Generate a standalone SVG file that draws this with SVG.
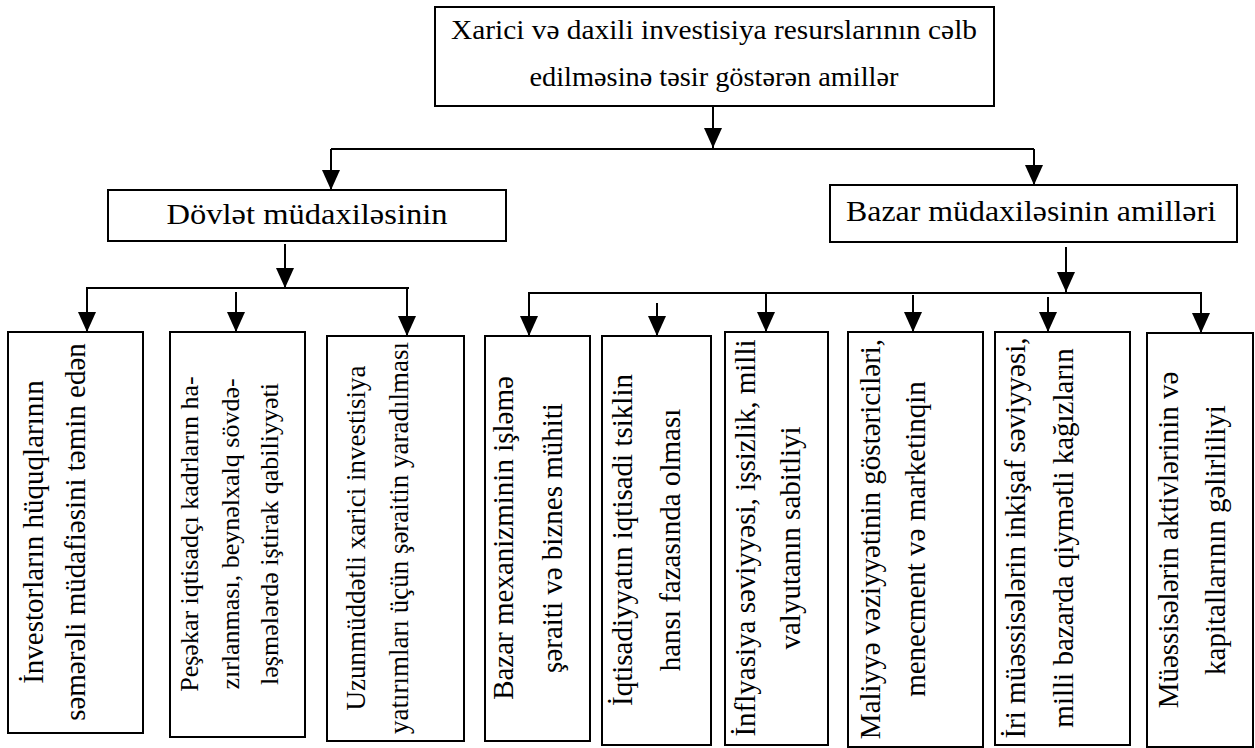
<svg xmlns="http://www.w3.org/2000/svg" width="1255" height="748" viewBox="0 0 1255 748">
<style>
.box{fill:#fff;stroke:#000;stroke-width:2}
.t{font-family:"Liberation Serif","DejaVu Serif","Times New Roman",serif;fill:#000;text-anchor:middle}
.top{font-size:28px}
.mid{font-size:30px}
.v{font-size:29px}
.v2{font-size:26px}
.v3{font-size:27px}
.c{fill:none;stroke:#000;stroke-width:2}
</style>
<defs>
<marker id="ah" viewBox="0 0 20 18" refX="20" refY="9" markerWidth="20" markerHeight="18" markerUnits="userSpaceOnUse" orient="auto">
<path d="M0,0 L20,9 L0,18 z" fill="#000"/>
</marker>
</defs>
<rect width="1255" height="748" fill="#fff"/>
<g id="connectors">
<path class="c" d="M713,107 V148" marker-end="url(#ah)"/>
<path class="c" d="M331,149 H1034"/>
<path class="c" d="M331,149 V190" marker-end="url(#ah)"/>
<path class="c" d="M1034,149 V185" marker-end="url(#ah)"/>
<path class="c" d="M285,244 V288" marker-end="url(#ah)"/>
<path class="c" d="M86,288 H409"/>
<path class="c" d="M87,288 V332" marker-end="url(#ah)"/>
<path class="c" d="M236,292 V332" marker-end="url(#ah)"/>
<path class="c" d="M407,288 V336" marker-end="url(#ah)"/>
<path class="c" d="M1066,247 V292" marker-end="url(#ah)"/>
<path class="c" d="M528,293 H1202"/>
<path class="c" d="M529,293 V336" marker-end="url(#ah)"/>
<path class="c" d="M657,303 V336" marker-end="url(#ah)"/>
<path class="c" d="M766,293 V332" marker-end="url(#ah)"/>
<path class="c" d="M913,295 V332" marker-end="url(#ah)"/>
<path class="c" d="M1048,297 V332" marker-end="url(#ah)"/>
<path class="c" d="M1201,293 V333" marker-end="url(#ah)"/>
</g>
<g id="root">
<rect class="box" x="435" y="7" width="559" height="99"/>
<text class="t top" x="714" y="39" textLength="526" lengthAdjust="spacingAndGlyphs">Xarici və daxili investisiya resurslarının cəlb</text>
<text class="t top" x="714" y="86" textLength="369" lengthAdjust="spacingAndGlyphs">edilməsinə təsir göstərən amillər</text>
</g>
<g id="dovlet">
<rect class="box" x="108" y="190" width="398" height="51"/>
<text class="t mid" x="307" y="224" textLength="281" lengthAdjust="spacingAndGlyphs">Dövlət müdaxiləsinin</text>
</g>
<g id="bazar">
<rect class="box" x="830" y="185" width="407" height="57"/>
<text class="t mid" x="1031" y="221" textLength="370" lengthAdjust="spacingAndGlyphs">Bazar müdaxiləsinin amilləri</text>
</g>
<g id="n1">
<rect class="box" x="8" y="332" width="135" height="401"/>
<text class="t v" transform="translate(43,532) rotate(-90)">İnvestorların hüquqlarının</text>
<text class="t v" transform="translate(85,532) rotate(-90)">səmərəli müdafiəsini təmin edən</text>
</g>
<g id="n2">
<rect class="box" x="170" y="332" width="135" height="405"/>
<text class="t v2" transform="translate(198,534) rotate(-90)">Peşəkar iqtisadçı kadrların ha-</text>
<text class="t v2" transform="translate(239,534) rotate(-90)">zırlanması, beynəlxalq sövdə-</text>
<text class="t v2" transform="translate(278,534) rotate(-90)">ləşmələrdə iştirak qabiliyyəti</text>
</g>
<g id="n3">
<rect class="box" x="327" y="336" width="137" height="405"/>
<text class="t v3" transform="translate(365,538) rotate(-90)">Uzunmüddətli xarici investisiya</text>
<text class="t v3" transform="translate(408,538) rotate(-90)">yatırımları üçün şəraitin yaradılması</text>
</g>
<g id="n4">
<rect class="box" x="485" y="336" width="105" height="405"/>
<text class="t v" transform="translate(513,538) rotate(-90)">Bazar mexanizminin işləmə</text>
<text class="t v" transform="translate(562,538) rotate(-90)">şəraiti və biznes mühiti</text>
</g>
<g id="n5">
<rect class="box" x="602" y="336" width="109" height="409"/>
<text class="t v" transform="translate(632,540) rotate(-90)">İqtisadiyyatın iqtisadi tsiklin</text>
<text class="t v" transform="translate(680,540) rotate(-90)">hansı fazasında olması</text>
</g>
<g id="n6">
<rect class="box" x="725" y="332" width="103" height="413"/>
<text class="t v" transform="translate(755,538) rotate(-90)">İnflyasiya səviyyəsi, işsizlik, milli</text>
<text class="t v" transform="translate(800,538) rotate(-90)">valyutanın sabitliyi</text>
</g>
<g id="n7">
<rect class="box" x="848" y="332" width="135" height="415"/>
<text class="t v" transform="translate(880,539) rotate(-90)">Maliyyə vəziyyətinin göstəriciləri,</text>
<text class="t v" transform="translate(925,539) rotate(-90)">menecment və marketinqin</text>
</g>
<g id="n8">
<rect class="box" x="995" y="332" width="135" height="413"/>
<text class="t v" transform="translate(1025,538) rotate(-90)">İri müəssisələrin inkişaf səviyyəsi,</text>
<text class="t v" transform="translate(1073,538) rotate(-90)">milli bazarda qiymətli kağızların</text>
</g>
<g id="n9">
<rect class="box" x="1147" y="333" width="106" height="414"/>
<text class="t v" transform="translate(1178,540) rotate(-90)">Müəssisələrin aktivlərinin və</text>
<text class="t v" transform="translate(1225,540) rotate(-90)">kapitallarının gəlirliliyi</text>
</g>
</svg>
